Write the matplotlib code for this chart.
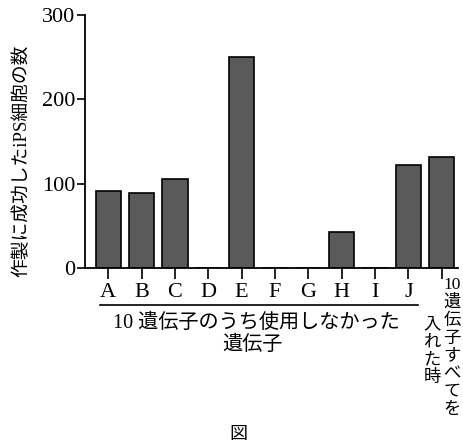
import matplotlib.pyplot as plt
import numpy as np

categories = ["A", "B", "C", "D", "E", "F", "G", "H", "I", "J", ""]
counts = [91, 89, 106, 0, 250, 0, 0, 43, 0, 122, 132]
yticks = [0, 100, 200, 300]

fam = ["Liberation Serif", "Noto Sans CJK JP"]
plt.rcParams["font.family"] = fam

fig = plt.figure(figsize=(4.64, 4.44), dpi=100)
ax = fig.add_axes([0.183, 0.396, 0.805, 0.570])

x = np.arange(len(counts))
ax.bar(x, counts, width=0.76, color="#5a5a5a", edgecolor="black", linewidth=1.2)

ax.set_xlim(-0.7, 10.5)
ax.set_ylim(0, 300)
ax.set_yticks(yticks)
ax.set_xticks(x)
ax.set_xticklabels(categories, fontsize=16)
ax.tick_params(axis="y", labelsize=16, length=6, width=1.2, pad=1)
ax.tick_params(axis="x", length=8, width=1.2, pad=3)
for s in ["top", "right"]:
    ax.spines[s].set_visible(False)
ax.spines["left"].set_linewidth(1.3)
ax.spines["bottom"].set_linewidth(1.3)

fig.text(22 / 464, 1 - 161 / 444, "作製に成功したiPS細胞の数", fontsize=13.5,
         rotation=90, ha="center", va="center")

# bracket line under A-J
fig.add_artist(plt.Line2D([100 / 464, 418 / 464], [1 - 305 / 444, 1 - 305 / 444],
                          color="black", linewidth=1.2))
fig.text(256 / 464, 1 - 323 / 444, "10 遺伝子のうち使用しなかった", fontsize=14.5,
         ha="center", va="center")
fig.text(252 / 464, 1 - 345 / 444, "遺伝子", fontsize=14.5, ha="center", va="center")

col1 = ["10", "遺", "伝", "子", "す", "べ", "て", "を"]
col2 = ["入", "れ", "た", "時"]
fig.text(452 / 464, 1 - 277 / 444, "\n".join(col1), fontsize=12.5, ha="center",
         va="top", linespacing=1.15)
fig.text(432 / 464, 1 - 317 / 444, "\n".join(col2), fontsize=12.5, ha="center",
         va="top", linespacing=1.15)

fig.text(238 / 464, 1 - 434 / 444, "図", fontsize=13, ha="center", va="center")

fig.savefig("out.png", dpi=100)
